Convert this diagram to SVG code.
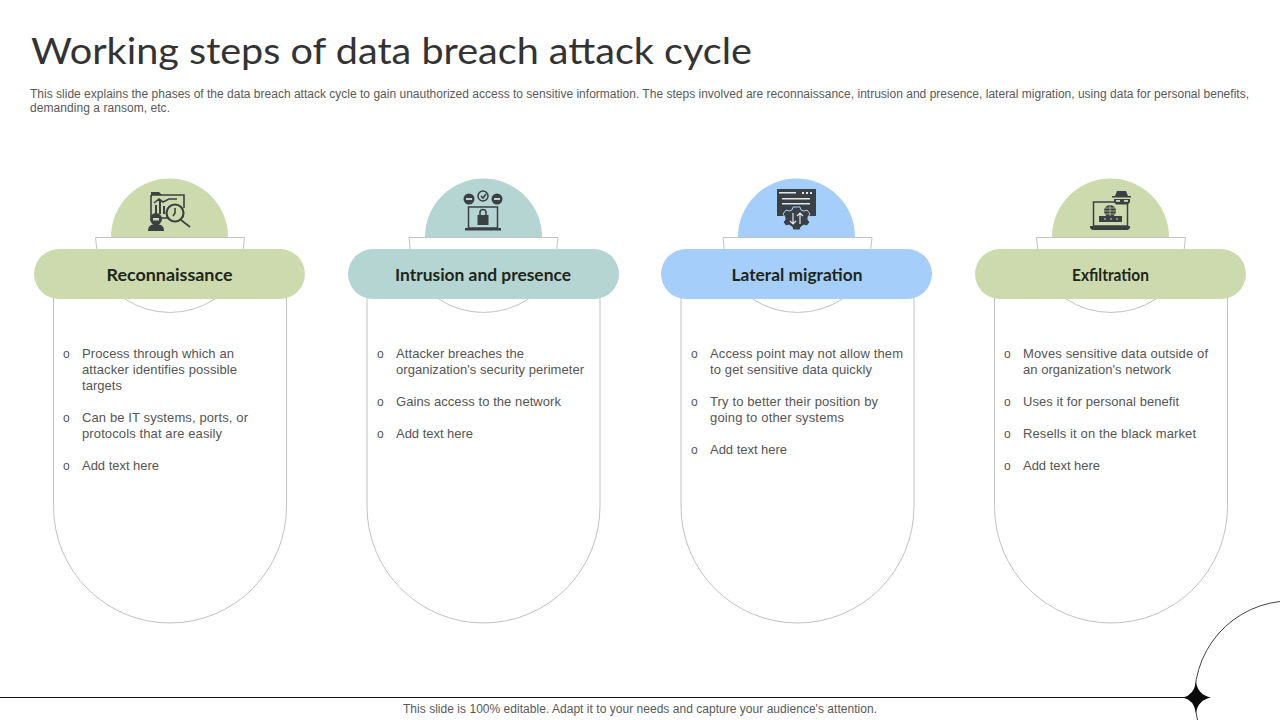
<svg xmlns="http://www.w3.org/2000/svg" width="1280" height="720" viewBox="0 0 1280 720">
<style>
text{font-family:"Liberation Sans",Arial,sans-serif}
.title{font-family:"Lato","Liberation Sans",sans-serif;font-size:36px;fill:#333}
.desc{font-size:12px;fill:#595959}
.foot{font-size:12px;fill:#595959}
.body{font-size:13px;fill:#555}
.bul{font-size:12px;fill:#555}
.head{font-family:"Lato","Liberation Sans",sans-serif;font-size:17px;font-weight:700;fill:#20261a;text-anchor:middle}
.line{fill:none;stroke:#c2c2c2;stroke-width:1}
.tab{fill:#fff;stroke:#c2c2c2;stroke-width:1}
.ic{fill:#3b4043}
.icl{fill:none;stroke:#3b4043;stroke-width:1.6}
.g{fill:#cddaae}.t{fill:#b5d5d2}.b{fill:#a6cefb}
</style>
<defs>
<g id="frame">
<path class="tab" d="M-74.500 60.500H74.500L73 74H-73Z"/>
<path class="line" d="M-116.500 120V329.500A116.500 116.500 0 0 0 116.500 329.500V120"/>
<path class="line" d="M-45 122A82 82 0 0 0 45 122"/>
</g>
</defs>
<text class="title" x="31" y="64" textLength="721" lengthAdjust="spacingAndGlyphs">Working steps of data breach attack cycle</text>
<text class="desc" x="30" y="98" textLength="1219">This slide explains the phases of the data breach attack cycle to gain unauthorized access to sensitive information. The steps involved are reconnaissance, intrusion and presence, lateral migration, using data for personal benefits,</text>
<text class="desc" x="30" y="112" textLength="140">demanding a ransom, etc.</text>

<g id="node-reconnaissance">
<path class="g" d="M111 237A58.500 58.500 0 0 1 228 237Z"/>
<use href="#frame" x="170" y="177"/>
<rect class="g" x="34" y="249" width="271" height="50" rx="25"/>
<text class="head" x="169.500" y="281" textLength="126" lengthAdjust="spacingAndGlyphs">Reconnaissance</text>
<path class="ic" d="M151 192h8l3 3h-11Z"/>
<path class="icl" d="M151 195v22M151 195h33v13M160 218h8"/>
<path class="ic" d="M155 214v-9h2v9ZM159 214v-13h2v13ZM163 214v-8h2v8Z"/>
<path class="icl" d="M154 203l5-4 4 3 6-3 8 0" stroke-width="1"/>
<circle cx="175" cy="213" r="8.500" fill="#cddaae" stroke="#3b4043" stroke-width="2.200"/>
<path class="icl" d="M175 208v5l-2 3"/>
<path class="icl" stroke-width="2" d="M181 220l9 7"/>
<circle class="ic" cx="156" cy="219" r="6"/>
<path class="ic" d="M148 231c0-5 3-7 8-7s8 2 8 7Z"/>
<rect x="153" y="218" width="6" height="2.500" fill="#cddaae"/>
<text class="bul" x="63" y="358">o</text>
<text class="body" x="82" y="358" textLength="152">Process through which an</text>
<text class="body" x="82" y="374" textLength="155">attacker identifies possible</text>
<text class="body" x="82" y="390" textLength="40">targets</text>
<text class="bul" x="63" y="422">o</text>
<text class="body" x="82" y="422" textLength="166">Can be IT systems, ports, or</text>
<text class="body" x="82" y="438" textLength="140">protocols that are easily</text>
<text class="bul" x="63" y="470">o</text>
<text class="body" x="82" y="470" textLength="77">Add text here</text>
</g>

<g id="node-intrusion">
<path class="t" d="M425 237A58.500 58.500 0 0 1 542 237Z"/>
<use href="#frame" x="483.500" y="177"/>
<rect class="t" x="348" y="249" width="271" height="50" rx="25"/>
<text class="head" x="483" y="281" textLength="176" lengthAdjust="spacingAndGlyphs">Intrusion and presence</text>
<circle class="ic" cx="469" cy="199" r="5.500"/>
<circle cx="483" cy="196" r="5" fill="none" stroke="#3b4043" stroke-width="1.500"/>
<path class="icl" d="M481 196l2 2 3-4" stroke-width="1"/>
<circle class="ic" cx="497" cy="199" r="5.500"/>
<rect x="466" y="198" width="6" height="2" fill="#b5d5d2"/>
<rect x="494" y="198" width="6" height="2" fill="#b5d5d2"/>
<rect x="468.500" y="207" width="29" height="21" fill="none" stroke="#3b4043" stroke-width="1.500"/>
<path class="ic" d="M465 228h36v2.500h-36Z"/>
<rect class="ic" x="477.500" y="215" width="11" height="10"/>
<path class="icl" d="M480 215v-2.500a3 3 0 0 1 6 0v2.500"/>
<text class="bul" x="377" y="358">o</text>
<text class="body" x="396" y="358" textLength="128">Attacker breaches the</text>
<text class="body" x="396" y="374" textLength="188">organization's security perimeter</text>
<text class="bul" x="377" y="406">o</text>
<text class="body" x="396" y="406" textLength="165">Gains access to the network</text>
<text class="bul" x="377" y="438">o</text>
<text class="body" x="396" y="438" textLength="77">Add text here</text>
</g>

<g id="node-lateral">
<path class="b" d="M738 237A58.500 58.500 0 0 1 855 237Z"/>
<use href="#frame" x="797.500" y="177"/>
<rect class="b" x="661" y="249" width="271" height="50" rx="25"/>
<text class="head" x="797" y="281" textLength="131" lengthAdjust="spacingAndGlyphs">Lateral migration</text>
<rect class="ic" x="777" y="189" width="39" height="27"/>
<path d="M779 192h17v1.500h-17ZM782 198h28v1.500h-28ZM782 203h28v1.500h-28Z" fill="#dfe7ef"/>
<path d="M802 192h2v2h-2ZM806 192h2v2h-2ZM810 192h2v2h-2Z" fill="#dfe7ef"/>
<path class="ic" stroke="#a6cefb" stroke-width="1" d="M793 207h7l1 3 3 1 3-1 3 4-2 3v3l2 2-3 4-3-1-3 2-1 3h-7l-1-3-3-2-3 1-3-4 2-2v-3l-2-3 3-4 3 1 3-1Z"/>
<path d="M793 213v11M790 221l3 3 3-3M800 224v-11M797 216l3-3 3 3" fill="none" stroke="#dfe7ef" stroke-width="1.200"/>
<text class="bul" x="691" y="358">o</text>
<text class="body" x="710" y="358" textLength="193">Access point may not allow them</text>
<text class="body" x="710" y="374" textLength="162">to get sensitive data quickly</text>
<text class="bul" x="691" y="406">o</text>
<text class="body" x="710" y="406" textLength="168">Try to better their position by</text>
<text class="body" x="710" y="422" textLength="134">going to other systems</text>
<text class="bul" x="691" y="454">o</text>
<text class="body" x="710" y="454" textLength="77">Add text here</text>
</g>

<g id="node-exfiltration">
<path class="g" d="M1052 237A58.500 58.500 0 0 1 1169 237Z"/>
<use href="#frame" x="1111" y="177"/>
<rect class="g" x="975" y="249" width="271" height="50" rx="25"/>
<text class="head" x="1110.500" y="281" textLength="77" lengthAdjust="spacingAndGlyphs">Exfiltration</text>
<rect x="1093.500" y="202" width="34" height="24" fill="none" stroke="#3b4043" stroke-width="1.500"/>
<path class="ic" d="M1090 226h40v2l-2 2h-36l-2-2Z"/>
<circle class="ic" cx="1110" cy="211" r="6"/>
<path d="M1104 211h12M1110 205v12M1105 208h10M1105 214h10" stroke="#cddaae" stroke-width=".7" fill="none"/>
<rect class="ic" x="1099" y="216" width="23" height="6"/>
<path d="M1104 219h2M1110 219h2M1116 219h2" stroke="#cddaae" stroke-width="1.200"/>
<path class="ic" d="M1117 191h9l2 5h3v1.500h-19V196h3Z"/>
<path class="ic" d="M1114 199h16v3l-2 2.500h-12l-2-2.500Z"/>
<rect x="1116" y="200" width="4" height="1.800" fill="#cddaae"/>
<rect x="1124" y="200" width="4" height="1.800" fill="#cddaae"/>
<text class="bul" x="1004" y="358">o</text>
<text class="body" x="1023" y="358" textLength="185">Moves sensitive data outside of</text>
<text class="body" x="1023" y="374" textLength="148">an organization's network</text>
<text class="bul" x="1004" y="406">o</text>
<text class="body" x="1023" y="406" textLength="156">Uses it for personal benefit</text>
<text class="bul" x="1004" y="438">o</text>
<text class="body" x="1023" y="438" textLength="173">Resells it on the black market</text>
<text class="bul" x="1004" y="470">o</text>
<text class="body" x="1023" y="470" textLength="77">Add text here</text>
</g>

<g id="connectors">
<path d="M0 697.500H1196" fill="none" stroke="#111" stroke-width="1"/>
<path d="M1280 601.500A96 96 0 0 0 1197.500 720" fill="none" stroke="#444" stroke-width="1"/>
<path d="M1196 682Q1198 695 1211 697.500Q1198 700 1196 713Q1194 700 1183 697.500Q1194 695 1196 682Z" fill="#0a0a0a"/>
</g>
<text class="foot" x="403" y="713" textLength="474">This slide is 100% editable. Adapt it to your needs and capture your audience's attention.</text>
</svg>
